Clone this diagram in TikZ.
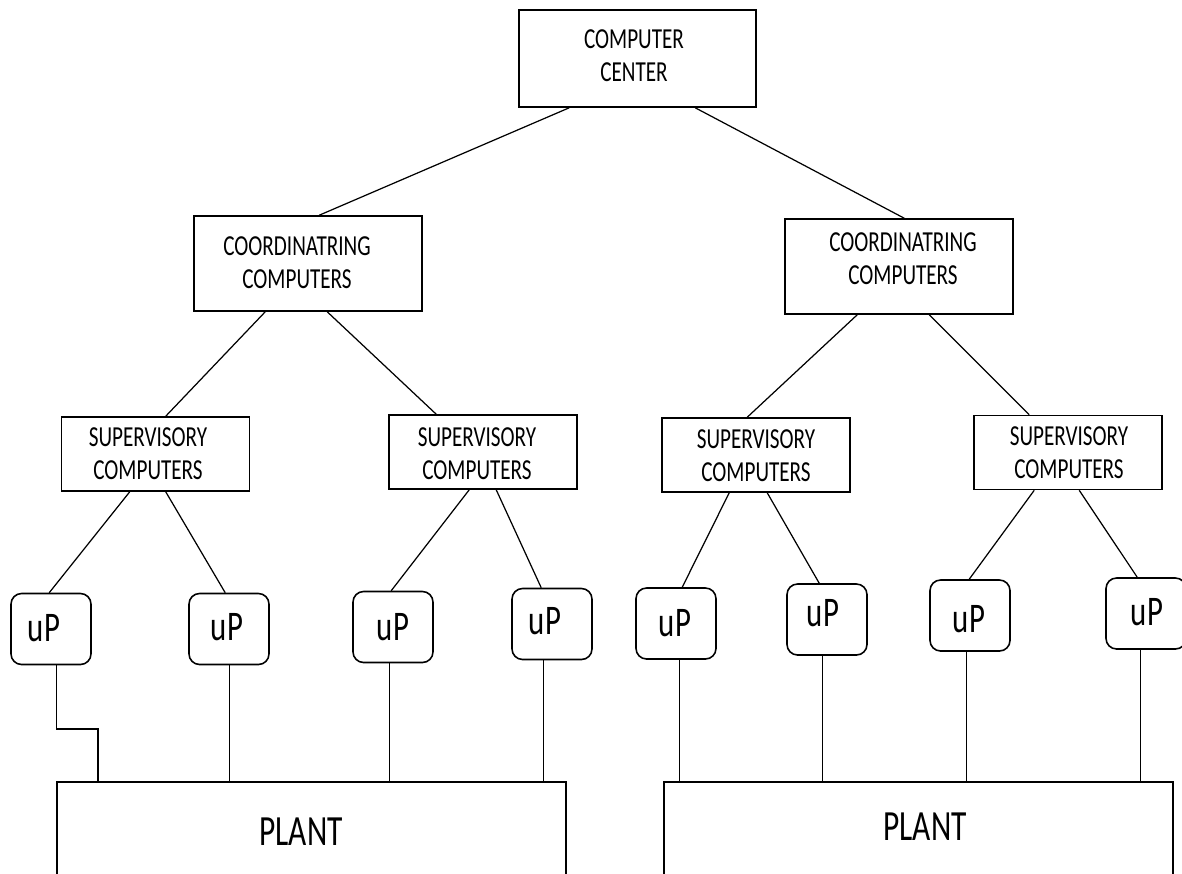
\documentclass[tikz,border=0pt]{standalone}
\usepackage{fontspec}
\setmainfont{Carlito}[FakeStretch=0.73]
\usetikzlibrary{calc}

\tikzset{
  box/.style={draw, line width=0.9pt, rectangle, inner sep=0pt},
  upbox/.style={draw, line width=0.9pt, rectangle, rounded corners=6pt,
    inner sep=0pt, minimum width=1.6cm, minimum height=1.42cm},
  supbox/.style={box, minimum width=3.76cm, minimum height=1.48cm},
  coordbox/.style={box, minimum width=4.56cm, minimum height=1.9cm},
  plantbox/.style={box, minimum width=10.18cm, minimum height=2.6cm},
  txt/.style={align=center, inner sep=0pt, font=\fontsize{16.5}{18.8}\selectfont},
  uptxt/.style={inner sep=0pt, font=\fontsize{24}{28}\selectfont},
  planttxt/.style={inner sep=0pt, font=\fontsize{24.5}{29}\selectfont},
  wire/.style={line width=0.7pt}
}

\begin{document}
\begin{tikzpicture}[x=0.02cm, y=-0.02cm]
\useasboundingbox (0,0) rectangle (1182,873);
\clip (0,0) rectangle (1182,873);
\fill[white] (0,0) rectangle (1182,873);

% top level
\node[box, minimum width=4.74cm, minimum height=1.94cm] (cc) at (637.5,58.5) {};
\node[txt] (cct) at (634,56) {COMPUTER\\CENTER};

% coordinating computers
\node[coordbox] (lc) at (308,263.5) {};
\node[txt] (lct) at (297,263) {COORDINATRING\\COMPUTERS};
\node[coordbox] (rc) at (899,266.5) {};
\node[txt] (rct) at (903,259) {COORDINATRING\\COMPUTERS};

% supervisory computers
\node[supbox] (s1) at (155.5,454) {};
\node[txt] (s1t) at (148,453.5) {SUPERVISORY\\COMPUTERS};
\node[supbox] (s2) at (483,452) {};
\node[txt] (s2t) at (477,453.5) {SUPERVISORY\\COMPUTERS};
\node[supbox] (s3) at (756,455) {};
\node[txt] (s3t) at (756,455.5) {SUPERVISORY\\COMPUTERS};
\node[supbox] (s4) at (1068,452.5) {};
\node[txt] (s4t) at (1069,452.5) {SUPERVISORY\\COMPUTERS};

% microprocessors
\node[upbox] (u1) at (51,629) {};
\node[uptxt] (u1t) at (44,628) {uP};
\node[upbox] (u2) at (229,629) {};
\node[uptxt] (u2t) at (227,627) {uP};
\node[upbox] (u3) at (393,627) {};
\node[uptxt] (u3t) at (393,627) {uP};
\node[upbox] (u4) at (552,624) {};
\node[uptxt] (u4t) at (545,621) {uP};
\node[upbox] (u5) at (676,623.5) {};
\node[uptxt] (u5t) at (675,623) {uP};
\node[upbox] (u6) at (827,619.5) {};
\node[uptxt] (u6t) at (823,613) {uP};
\node[upbox] (u7) at (970,615.5) {};
\node[uptxt] (u7t) at (969,619) {uP};
\node[upbox] (u8) at (1146,613.5) {};
\node[uptxt] (u8t) at (1147,612) {uP};

% plants (open towards the bottom edge)
\node[plantbox] (pl) at (311.5,847) {};
\node[planttxt] (plt) at (301,832) {PLANT};
\node[plantbox] (pr) at (918.5,847) {};
\node[planttxt] (prt) at (925,827) {PLANT};

% hierarchy links
\draw[wire] ($(cc.south west)+(51,0)$) -- ($(lc.north west)+(126,0)$);
\draw[wire] ($(cc.south west)+(177,0)$) -- ($(rc.north west)+(120,0)$);

\draw[wire] ($(lc.south west)+(72,0)$) -- ($(s1.north west)+(105,0)$);
\draw[wire] ($(lc.south west)+(134,0)$) -- ($(s2.north west)+(48,0)$);
\draw[wire] ($(rc.south west)+(73,0)$) -- ($(s3.north west)+(86,0)$);
\draw[wire] ($(rc.south west)+(145,0)$) -- ($(s4.north west)+(56,0)$);

\draw[wire] ($(s1.south west)+(69,0)$) -- ($(u1.north west)+(39,0)$);
\draw[wire] ($(s1.south west)+(105,0)$) -- ($(u2.north west)+(37,0)$);
\draw[wire] ($(s2.south west)+(81,0)$) -- ($(u3.north west)+(39,0)$);
\draw[wire] ($(s2.south west)+(108,0)$) -- ($(u4.north west)+(30,0)$);
\draw[wire] ($(s3.south west)+(68,0)$) -- ($(u5.north west)+(47,0)$);
\draw[wire] ($(s3.south west)+(106,0)$) -- ($(u6.north west)+(33,0)$);
\draw[wire] ($(s4.south west)+(61,0)$) -- ($(u7.north west)+(40,0)$);
\draw[wire] ($(s4.south west)+(106,0)$) -- ($(u8.north west)+(32,0)$);

% microprocessor to plant links
\coordinate (k1) at (98,729);
\draw[wire] ($(u1.south west)+(46,0)$) |- (k1) -- (k1 |- pl.north);
\draw[wire] ($(u2.south west)+(41,0)$) coordinate (a2) -- (a2 |- pl.north);
\draw[wire] ($(u3.south west)+(37,0)$) coordinate (a3) -- (a3 |- pl.north);
\draw[wire] ($(u4.south west)+(32,0)$) coordinate (a4) -- (a4 |- pl.north);
\draw[wire] ($(u5.south west)+(44,0)$) coordinate (a5) -- (a5 |- pr.north);
\draw[wire] ($(u6.south west)+(36,0)$) coordinate (a6) -- (a6 |- pr.north);
\draw[wire] ($(u7.south west)+(37,0)$) coordinate (a7) -- (a7 |- pr.north);
\draw[wire] ($(u8.south west)+(35,0)$) coordinate (a8) -- (a8 |- pr.north);
\end{tikzpicture}
\end{document}
